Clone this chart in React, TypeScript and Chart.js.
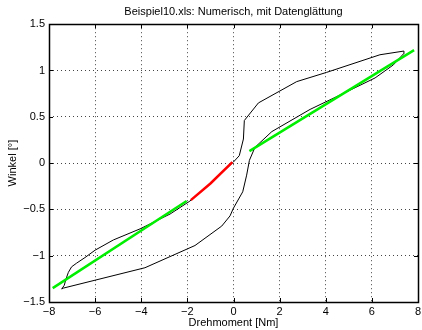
import React, { useEffect, useRef } from "react";
import { Chart, registerables } from "chart.js";

Chart.register(...registerables);

const titleText = "Beispiel10.xls: Numerisch, mit Datenglättung";
const xTitle = "Drehmoment [Nm]";
const yTitle = "Winkel [°]";

const loopX = [-7.45, -7.38, -3.84, -1.67, -0.51, -0.15, -0.01, 0.40, 0.57, 0.69, 0.93, 1.66, 3.32, 4.91, 6.14, 6.93, 7.37, 7.39, 6.35, 4.04, 2.74, 1.08, 0.47, 0.43, 0.25, -0.01, -0.9, -1.89, -2.75, -4.05, -5.21, -6.0, -6.44, -6.8, -7.02, -7.16, -7.26, -7.34, -7.45];
const loopY = [-1.36, -1.35, -1.13, -0.89, -0.68, -0.57, -0.49, -0.31, -0.13, 0.03, 0.17, 0.34, 0.58, 0.77, 0.92, 1.06, 1.18, 1.21, 1.17, 0.98, 0.88, 0.65, 0.46, 0.26, 0.08, 0.01, -0.2, -0.41, -0.55, -0.71, -0.83, -0.94, -1.02, -1.08, -1.12, -1.18, -1.25, -1.32, -1.36];

const greenLowX = [-7.84, -2.03];
const greenLowY = [-1.35, -0.41];
const greenHighX = [0.69, 7.83];
const greenHighY = [0.13, 1.22];

const redX = [-1.85, -1.0, -0.05];
const redY = [-0.40, -0.22, 0.01];

const xTicks = [-8, -6, -4, -2, 0, 2, 4, 6, 8];
const yTicks = [-1.5, -1, -0.5, 0, 0.5, 1, 1.5];

const pts = (xs: number[], ys: number[]) => xs.map((x, i) => ({ x, y: ys[i] }));
const fmt = (v: number) => (v < 0 ? "\u2212" + String(-v) : String(v));

const FONT = "'Liberation Sans', Arial, Helvetica, sans-serif";

const boxPlugin = {
  id: "box",
  afterDatasetsDraw(chart: any) {
    const { ctx, chartArea: a, scales } = chart;
    ctx.save();
    ctx.strokeStyle = "#000";
    ctx.lineWidth = 1;
    ctx.beginPath();
    const len = 4;
    xTicks.forEach((v) => {
      const px = Math.round(scales.x.getPixelForValue(v)) + 0.5;
      ctx.moveTo(px, a.bottom);
      ctx.lineTo(px, a.bottom - len);
      ctx.moveTo(px, a.top);
      ctx.lineTo(px, a.top + len);
    });
    yTicks.forEach((v) => {
      const py = Math.round(scales.y.getPixelForValue(v)) + 0.5;
      ctx.moveTo(a.left, py);
      ctx.lineTo(a.left + len, py);
      ctx.moveTo(a.right, py);
      ctx.lineTo(a.right - len, py);
    });
    ctx.stroke();
    ctx.lineWidth = 1.5;
    ctx.strokeRect(Math.round(a.left) + 0.5, Math.round(a.top) + 0.5, Math.round(a.right - a.left), Math.round(a.bottom - a.top));
    ctx.restore();
  },
};

export default function App() {
  const ref = useRef<HTMLCanvasElement | null>(null);
  useEffect(() => {
    if (!ref.current) return;
    const chart = new Chart(ref.current, {
      type: "scatter",
      data: {
        datasets: [
          { data: pts(loopX, loopY), showLine: true, borderColor: "#000", borderWidth: 1, pointRadius: 0, order: 3 },
          { data: pts(greenLowX, greenLowY), showLine: true, borderColor: "#00ee00", borderWidth: 2.5, pointRadius: 0, order: 2 },
          { data: pts(greenHighX, greenHighY), showLine: true, borderColor: "#00ee00", borderWidth: 2.5, pointRadius: 0, order: 2 },
          { data: pts(redX, redY), showLine: true, borderColor: "#ff0000", borderWidth: 2.5, pointRadius: 0, order: 1 },
        ],
      },
      options: {
        animation: false,
        responsive: false,
        layout: { padding: { left: 4, right: 4, top: 0, bottom: 0 } },
        plugins: {
          legend: { display: false },
          tooltip: { enabled: false },
          title: {
            display: true,
            fullSize: false,
            text: titleText,
            color: "#000",
            font: { family: FONT, size: 11, weight: "normal" },
            padding: { top: 5, bottom: 6 },
          },
        },
        scales: {
          x: {
            type: "linear",
            min: -8,
            max: 8,
            afterBuildTicks: (s: any) => { s.ticks = xTicks.map((v) => ({ value: v })); },
            afterFit: (s: any) => { s.height = 28; s.paddingLeft = 0; s.paddingRight = 0; },
            grid: { color: "#444", drawTicks: false, lineWidth: 1 },
            border: { display: false, dash: [1, 3] },
            ticks: { color: "#000", font: { family: FONT, size: 11 }, padding: 3, callback: (v: any) => fmt(Number(v)), maxRotation: 0 },
            title: { display: true, text: xTitle, color: "#000", font: { family: FONT, size: 11 }, padding: { top: 0, bottom: 0 } },
          },
          y: {
            type: "linear",
            min: -1.5,
            max: 1.5,
            afterBuildTicks: (s: any) => { s.ticks = yTicks.map((v) => ({ value: v })); },
            afterFit: (s: any) => { s.width = 45; s.paddingTop = 0; s.paddingBottom = 0; },
            grid: { color: "#444", drawTicks: false, lineWidth: 1 },
            border: { display: false, dash: [1, 3] },
            ticks: { color: "#000", font: { family: FONT, size: 11 }, padding: 4, callback: (v: any) => fmt(Number(v)) },
            title: { display: true, text: yTitle, color: "#000", font: { family: FONT, size: 11 }, padding: { top: 2, bottom: 2 } },
          },
        },
      },
      plugins: [boxPlugin],
    });
    return () => chart.destroy();
  }, []);
  return (
    <div style={{ position: "fixed", left: 0, top: 0, width: 422, height: 330, background: "#fff" }}>
      <canvas ref={ref} width={422} height={330} style={{ width: 422, height: 330 }} />
    </div>
  );
}
